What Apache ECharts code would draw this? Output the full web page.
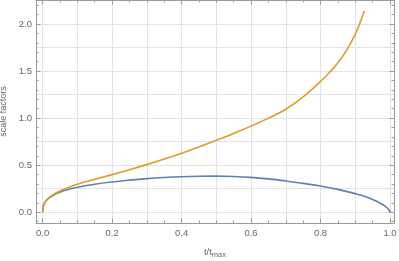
<!DOCTYPE html>
<html><head><meta charset="utf-8">
<script src="https://cdn.jsdelivr.net/npm/echarts@6/dist/echarts.min.js"></script>
<style>html,body{margin:0;padding:0;background:#fff}#c{width:399px;height:261px}</style>
</head><body><div id="c"></div>
<script>
// t/t_max values and scale factors
const blueT = [0, 0.003, 0.01, 0.02, 0.04, 0.06, 0.08, 0.1, 0.15, 0.2, 0.25, 0.3, 0.35, 0.4, 0.45, 0.5, 0.55, 0.6, 0.65, 0.7, 0.75, 0.8, 0.85, 0.9, 0.93, 0.96, 0.98, 0.99, 0.997, 1.0];
const blueA = [0, 0.075, 0.122, 0.157, 0.200, 0.228, 0.249, 0.266, 0.298, 0.322, 0.341, 0.357, 0.369, 0.378, 0.383, 0.384, 0.380, 0.371, 0.355, 0.333, 0.307, 0.279, 0.243, 0.198, 0.165, 0.120, 0.080, 0.052, 0.025, 0];
const orangeT = [0, 0.003, 0.01, 0.02, 0.04, 0.06, 0.08, 0.1, 0.15, 0.2, 0.25, 0.3, 0.35, 0.4, 0.45, 0.5, 0.55, 0.6, 0.65, 0.7, 0.75, 0.8, 0.825, 0.85, 0.875, 0.9, 0.915, 0.926];
const orangeA = [0, 0.075, 0.125, 0.162, 0.208, 0.243, 0.272, 0.297, 0.350, 0.400, 0.452, 0.506, 0.565, 0.628, 0.694, 0.764, 0.838, 0.915, 1.000, 1.095, 1.225, 1.390, 1.482, 1.588, 1.720, 1.893, 2.025, 2.138];
const xMajor = [0, 0.2, 0.4, 0.6, 0.8, 1.0];
const xMinor = [0.05, 0.1, 0.15, 0.25, 0.3, 0.35, 0.45, 0.5, 0.55, 0.65, 0.7, 0.75, 0.85, 0.9, 0.95];
const xGrid = [0, 0.1, 0.2, 0.3, 0.4, 0.5, 0.6, 0.7, 0.8, 0.9, 1.0];
const yMajor = [0, 0.5, 1.0, 1.5, 2.0];
const yMinor = [-0.1, 0.1, 0.2, 0.3, 0.4, 0.6, 0.7, 0.8, 0.9, 1.1, 1.2, 1.3, 1.4, 1.6, 1.7, 1.8, 1.9, 2.1, 2.2];
const yGrid = [0, 0.25, 0.5, 0.75, 1.0, 1.25, 1.5, 1.75, 2.0];

const X_MIN = -0.019, X_MAX = 1.0115, Y_MIN = -0.114, Y_MAX = 2.255;
const FRAME = '#9a9a9a', LABEL = '#666', GRIDC = '#e3e3e3';
const FONT = 'Liberation Sans, Arial, sans-serif';
const gridBox = {left: 36, right: 5, top: 0, bottom: 38, containLabel: false, outerBoundsMode: 'none'};
const fmt = v => v.toFixed(1);

function xAx(gi, pos, opts) {
  return Object.assign({type: 'value', gridIndex: gi, position: pos, min: X_MIN, max: X_MAX,
    axisLine: {show: false, onZero: false}, axisTick: {show: false}, axisLabel: {show: false}, splitLine: {show: false}}, opts);
}
function yAx(gi, pos, opts) {
  return Object.assign({type: 'value', gridIndex: gi, position: pos, min: Y_MIN, max: Y_MAX,
    axisLine: {show: false, onZero: false}, axisTick: {show: false}, axisLabel: {show: false}, splitLine: {show: false}}, opts);
}
const lineS = {show: true, onZero: false, lineStyle: {color: FRAME, width: 1}};
const majT = vals => ({show: true, inside: true, length: 4.5, customValues: vals, lineStyle: {color: FRAME}});
const minT = vals => ({show: true, inside: true, length: 2.5, customValues: vals, lineStyle: {color: FRAME}});

const option = {
  animation: false,
  grid: [Object.assign({}, gridBox), Object.assign({}, gridBox), Object.assign({}, gridBox)],
  xAxis: [
    xAx(0, 'bottom', {axisLine: lineS, axisTick: majT(xMajor),
      axisLabel: {show: true, customValues: xMajor, formatter: fmt, color: LABEL, fontSize: 9.5, fontFamily: FONT, margin: 5},
      name: '{t|t/t}{s|max}', nameLocation: 'middle', nameGap: 22,
      nameTextStyle: {rich: {t: {fontSize: 9.5, color: LABEL, fontFamily: FONT},
        s: {fontSize: 7.5, color: LABEL, fontFamily: FONT, padding: [6, 0, 0, 0]}}}}),
    xAx(0, 'top', {axisLine: lineS, axisTick: majT(xMajor)}),
    xAx(1, 'bottom', {axisTick: minT(xMinor)}),
    xAx(1, 'top', {axisTick: minT(xMinor)}),
    xAx(2, 'bottom', {axisTick: {show: false, customValues: xGrid}, splitLine: {show: true, lineStyle: {color: GRIDC, width: 1}}})
  ],
  yAxis: [
    yAx(0, 'left', {axisLine: lineS, axisTick: majT(yMajor),
      axisLabel: {show: true, customValues: yMajor, formatter: fmt, color: LABEL, fontSize: 9.5, fontFamily: FONT, margin: 4},
      name: 'scale factors', nameLocation: 'middle', nameGap: 25, nameRotate: 90,
      nameTextStyle: {fontSize: 9, color: LABEL, fontFamily: FONT}}),
    yAx(0, 'right', {axisLine: lineS, axisTick: majT(yMajor)}),
    yAx(1, 'left', {axisTick: minT(yMinor)}),
    yAx(1, 'right', {axisTick: minT(yMinor)}),
    yAx(2, 'left', {axisTick: {show: false, customValues: yGrid}, splitLine: {show: true, lineStyle: {color: GRIDC, width: 1}}})
  ],
  series: [
    {type: 'line', xAxisIndex: 0, yAxisIndex: 0, showSymbol: false, smooth: 0.4, z: 5,
      data: blueT.map((t, i) => [t, blueA[i]]), lineStyle: {color: '#5E81B5', width: 1.6}, itemStyle: {color: '#5E81B5'}},
    {type: 'line', xAxisIndex: 0, yAxisIndex: 0, showSymbol: false, smooth: 0.4, z: 6,
      data: orangeT.map((t, i) => [t, orangeA[i]]), lineStyle: {color: '#E19C24', width: 1.6}, itemStyle: {color: '#E19C24'}}
  ]
};
const chart = echarts.init(document.getElementById('c'), null, {renderer: 'canvas'});
chart.setOption(option);
</script></body></html>
